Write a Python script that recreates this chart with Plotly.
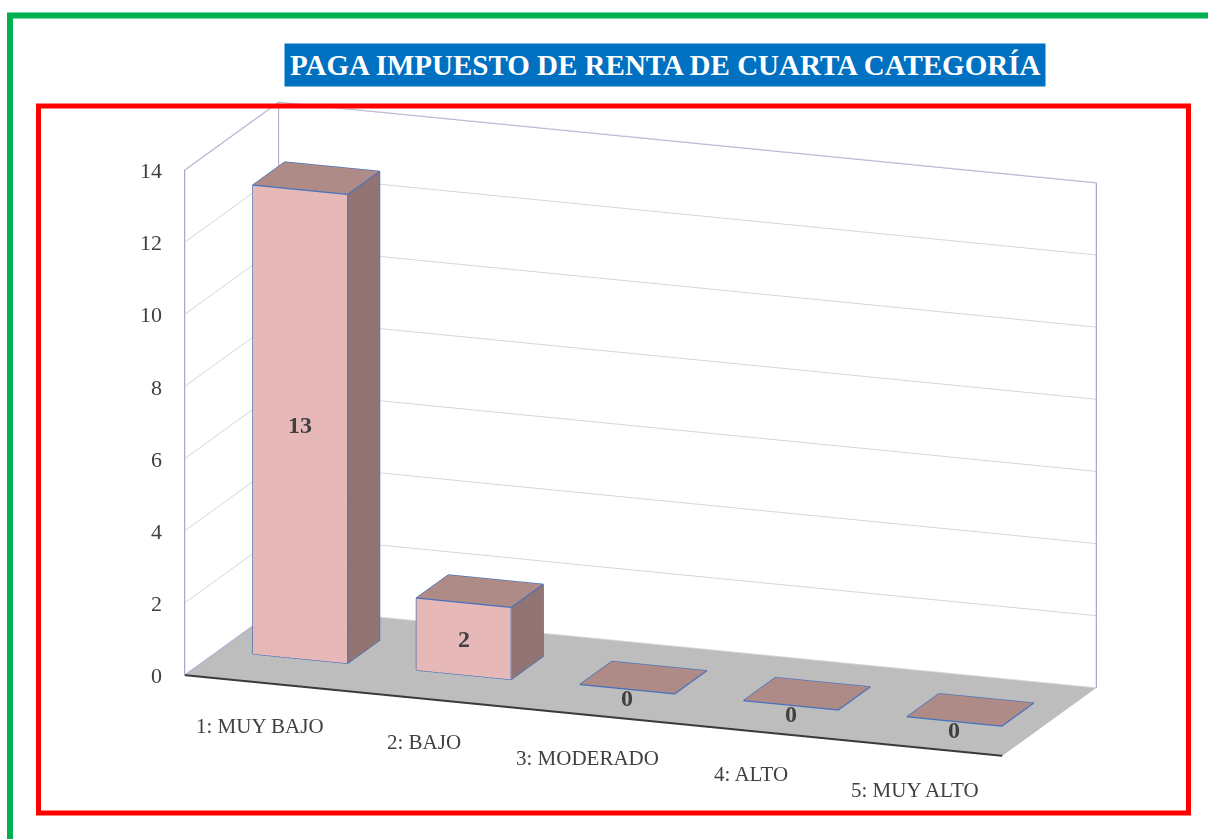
import plotly.graph_objects as go

# ---------------- data ----------------
categories = ["1: MUY BAJO", "2: BAJO", "3: MODERADO", "4: ALTO", "5: MUY ALTO"]
values = [13, 2, 0, 0, 0]
z_ticks = [0, 2, 4, 6, 8, 10, 12, 14]
title_text = "PAGA IMPUESTO DE RENTA DE CUARTA CATEGORÍA"

# ---------------- style ----------------
FONT = "Liberation Serif"
TXT = "#404040"
FRONT_C = "#E6B9B8"
SIDE_C = "#927474"
TOP_C = "#AE8B87"
EDGE_C = "#4170BE"
WALL_LINE = "#B4A0D2"
GRID_C = "#D6D6D6"
FLOOR_C = "#BDBDBD"

BAR_HALF = 0.29
Y_FRONT, Y_BACK = 0.36, 0.70
X_RANGE = [-0.5, len(categories) - 0.5]
Y_RANGE = [0, 1]
Z_RANGE = [z_ticks[0], z_ticks[-1]]
FLAT = 0.05

xs, ys, zs, I, J, K, fcol = [], [], [], [], [], [], []
ex, ey, ez = [], [], []


def add_quad(pts, col):
    b = len(xs)
    for p in pts:
        xs.append(p[0]); ys.append(p[1]); zs.append(p[2])
    I.extend([b, b]); J.extend([b + 1, b + 2]); K.extend([b + 2, b + 3])
    fcol.extend([col, col])


def add_path(pts):
    for p in pts:
        ex.append(p[0]); ey.append(p[1]); ez.append(p[2])
    ex.append(None); ey.append(None); ez.append(None)


for idx, v in enumerate(values):
    x0, x1 = idx - BAR_HALF, idx + BAR_HALF
    if v > 0:
        t = v
        add_quad([(x0, Y_FRONT, 0), (x1, Y_FRONT, 0), (x1, Y_FRONT, t), (x0, Y_FRONT, t)], FRONT_C)
        add_quad([(x1, Y_FRONT, 0), (x1, Y_BACK, 0), (x1, Y_BACK, t), (x1, Y_FRONT, t)], SIDE_C)
        add_quad([(x0, Y_FRONT, t), (x1, Y_FRONT, t), (x1, Y_BACK, t), (x0, Y_BACK, t)], TOP_C)
        add_quad([(x0, Y_FRONT, 0), (x0, Y_BACK, 0), (x0, Y_BACK, t), (x0, Y_FRONT, t)], SIDE_C)
        add_quad([(x0, Y_BACK, 0), (x1, Y_BACK, 0), (x1, Y_BACK, t), (x0, Y_BACK, t)], SIDE_C)
        add_path([(x0, Y_FRONT, 0), (x1, Y_FRONT, 0), (x1, Y_FRONT, t), (x0, Y_FRONT, t), (x0, Y_FRONT, 0)])
        add_path([(x0, Y_FRONT, t), (x0, Y_BACK, t), (x1, Y_BACK, t), (x1, Y_FRONT, t)])
        add_path([(x1, Y_FRONT, 0), (x1, Y_BACK, 0), (x1, Y_BACK, t)])
    else:
        t = FLAT
        add_quad([(x0, Y_FRONT, t), (x1, Y_FRONT, t), (x1, Y_BACK, t), (x0, Y_BACK, t)], TOP_C)
        add_path([(x0, Y_FRONT, t), (x1, Y_FRONT, t), (x1, Y_BACK, t), (x0, Y_BACK, t), (x0, Y_FRONT, t)])

fig = go.Figure()
fig.add_trace(go.Mesh3d(
    x=xs, y=ys, z=zs, i=I, j=J, k=K, facecolor=fcol, flatshading=True,
    lighting=dict(ambient=1, diffuse=0, specular=0, roughness=1, fresnel=0),
    hoverinfo="skip", showscale=False,
))
fig.add_trace(go.Scatter3d(x=ex, y=ey, z=ez, mode="lines",
                           line=dict(color=EDGE_C, width=2.5), hoverinfo="skip", showlegend=False))

# wall outlines
xl, xr = X_RANGE
yf, yb = Y_RANGE
zb, zt = Z_RANGE
wx, wy, wz = [], [], []
for seg in [
    [(xl, yf, zb), (xl, yf, zt), (xl, yb, zt), (xr, yb, zt), (xr, yb, zb)],
    [(xl, yb, zt), (xl, yb, zb)],
    [(xl, yf, zb), (xl, yb, zb)],
]:
    for p in seg:
        wx.append(p[0]); wy.append(p[1]); wz.append(p[2])
    wx.append(None); wy.append(None); wz.append(None)
fig.add_trace(go.Scatter3d(x=wx, y=wy, z=wz, mode="lines",
                           line=dict(color=WALL_LINE, width=2.5), hoverinfo="skip", showlegend=False))
fig.add_trace(go.Scatter3d(x=[xl, xr], y=[yf, yf], z=[zb, zb], mode="lines",
                           line=dict(color="#3A3A3A", width=4), hoverinfo="skip", showlegend=False))

ann = []
for t in z_ticks:
    ann.append(dict(x=xl, y=yf, z=t, text=str(t), showarrow=False, xanchor="right", yanchor="middle",
                    xshift=-20, font=dict(family=FONT, size=22, color=TXT)))
for idx, c in enumerate(categories):
    ann.append(dict(x=idx, y=yf, z=zb, text=c, showarrow=False, xanchor="center", yanchor="middle",
                    xshift=-6, yshift=-42, font=dict(family=FONT, size=21, color=TXT)))
for idx, v in enumerate(values):
    ann.append(dict(x=idx, y=Y_FRONT, z=v / 2, text="<b>%d</b>" % v, showarrow=False,
                    xanchor="center", yanchor="middle", yshift=(-6 if v == 0 else 0),
                    font=dict(family=FONT, size=24, color=TXT)))

axis_common = dict(showgrid=False, zeroline=False, showticklabels=False, ticks="", title=dict(text=""),
                   showspikes=False, showline=False, showbackground=True, backgroundcolor="white")

fig.update_layout(
    width=1208, height=839,
    margin=dict(l=0, r=0, t=0, b=0),
    paper_bgcolor="white",
    showlegend=False,
    scene=dict(
        domain=dict(x=[0.0677, 0.9927], y=[0.00154, 0.98654]),
        aspectmode="manual", aspectratio=dict(x=2.1107, y=0.657, z=1.2689),
        camera=dict(eye=dict(x=0.834, y=-2.2566, z=0.679), up=dict(x=0, y=0, z=1),
                    center=dict(x=0, y=0, z=0.0125), projection=dict(type="orthographic")),
        xaxis=dict(range=X_RANGE, **axis_common),
        yaxis=dict(range=Y_RANGE, **axis_common),
        zaxis=dict(range=Z_RANGE, tickvals=z_ticks, showgrid=True, gridcolor=GRID_C, gridwidth=2,
                   zeroline=False, showticklabels=False, ticks="", title=dict(text=""),
                   showspikes=False, showline=False, showbackground=True, backgroundcolor=FLOOR_C),
        annotations=ann,
    ),
    shapes=[
        dict(type="rect", xref="paper", yref="paper", x0=10 / 1208, x1=1.02, y0=-0.02, y1=1 - 15.5 / 839,
             line=dict(color="#00B050", width=6)),
        dict(type="rect", xref="paper", yref="paper", x0=38.5 / 1208, x1=1188.5 / 1208,
             y0=1 - 813 / 839, y1=1 - 106 / 839, line=dict(color="#FF0000", width=5)),
    ],
    annotations=[dict(xref="paper", yref="paper", x=665 / 1208, y=1 - 65 / 839, xanchor="center",
                      yanchor="middle", showarrow=False, text="<b>%s</b>" % title_text,
                      bgcolor="#0070C0", borderpad=5,
                      font=dict(family=FONT, size=29, color="white"))],
)

fig.write_html("out.html", config={"displayModeBar": False},
               post_script="document.body.style.margin='0';")
